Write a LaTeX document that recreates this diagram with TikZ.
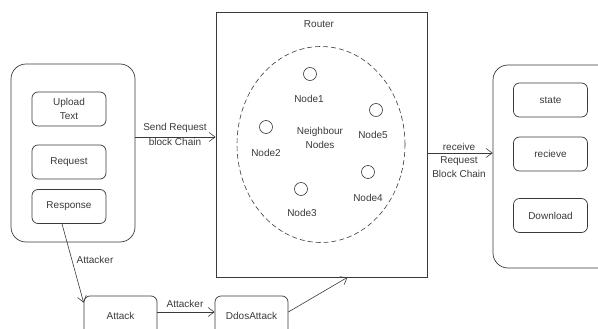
\documentclass[tikz,border=0pt]{standalone}
\usepackage{fontspec}
\setmainfont{Liberation Sans}
\usetikzlibrary{arrows.meta, positioning, calc, shapes.geometric}
\definecolor{Ink}{HTML}{3A3A3A}
\definecolor{Paper}{HTML}{FFFFFF}

\begin{document}
\begin{tikzpicture}[x=1pt,y=-1pt,font=\fontsize{10}{13.5}\selectfont,flow/.style={-{Straight Barb[length=6pt,width=9pt]}, draw=Ink, line width=0.6pt},outerbox/.style={draw=Ink, rounded corners=15pt, line width=0.7pt},routerbox/.style={draw=Ink, line width=0.7pt},itembox/.style={draw=Ink, rounded corners=6pt, line width=0.7pt, minimum width=74pt, minimum height=34pt, align=center, text=Ink},peer/.style={circle, draw=Ink, line width=0.6pt, minimum size=13pt, inner sep=0pt},hoodring/.style={ellipse, draw=Ink, line width=0.6pt, dash pattern=on 5pt off 3pt},labeltext/.style={text=Ink, align=center, inner sep=1pt}]
\clip (0,0) rectangle (598,329);
\fill[Paper] (0,0) rectangle (598,329);
% client side
\node[outerbox, minimum width=124pt, minimum height=178pt] (client) at (73,153) {};
\node[itembox] (upload) at (69,109) {Upload\\Text};
\node[itembox] (request) at (69,162) {Request};
\node[itembox] (response) at (69,206.5) {Response};
% router with neighbour nodes
\node[routerbox, minimum width=211pt, minimum height=265pt] (router) at (321.5,144.5) {};
\node[labeltext] (routerlbl) at (319,24) {Router};
\node[hoodring, minimum width=168pt, minimum height=196pt] (hood) at (321,144.5) {};
\node[labeltext] (hoodlbl) at (320,138) {Neighbour\\Nodes};
\node[peer] (n1) at (310,74) {};
\node[labeltext] (n1lbl) at (309,99) {Node1};
\node[peer] (n2) at (266,127) {};
\node[labeltext] (n2lbl) at (266,153) {Node2};
\node[peer] (n3) at (301,189) {};
\node[labeltext] (n3lbl) at (302,213) {Node3};
\node[peer] (n4) at (368,172) {};
\node[labeltext] (n4lbl) at (368,198) {Node4};
\node[peer] (n5) at (376,110) {};
\node[labeltext] (n5lbl) at (373,135) {Node5};
% receiving side
\node[outerbox, minimum width=150pt, minimum height=203pt] (server) at (568,166.5) {};
\node[itembox] (state) at (550.5,100) {state};
\node[itembox] (recv) at (550.5,154) {recieve};
\node[itembox] (download) at (550.5,215.5) {Download};
% attack path
\node[itembox, minimum width=73pt, minimum height=40pt] (attack) at (120.5,316) {Attack};
\node[itembox, minimum width=73pt, minimum height=40pt] (ddos) at (251.5,316) {DdosAttack};
% connectors
\draw[flow] ([yshift=16pt]client.east) -- ([yshift=16pt]client.east -| router.west);
\node[labeltext] (sendlbl) at (175,128) {Send Request};
\node[labeltext] (sendlbl2) at (175,142) {block Chain};
\draw[flow] ([yshift=-8.5pt]router.east) -- ([yshift=-8.5pt]router.east -| server.west);
\node[labeltext] (recvlbl) at (459,160) {receive\\Request\\Block Chain};
\draw[flow] ([xshift=-7pt]response.south) -- ([yshift=-7pt]attack.north west);
\node[labeltext] (atklbl1) at (95,260) {Attacker};
\draw[flow] ([yshift=4pt]attack.east) -- ([yshift=4pt]ddos.west);
\node[labeltext] (atklbl2) at (185,304) {Attacker};
\draw[flow] ([yshift=4pt]ddos.east) -- ([xshift=26pt]router.south);
\end{tikzpicture}
\end{document}
